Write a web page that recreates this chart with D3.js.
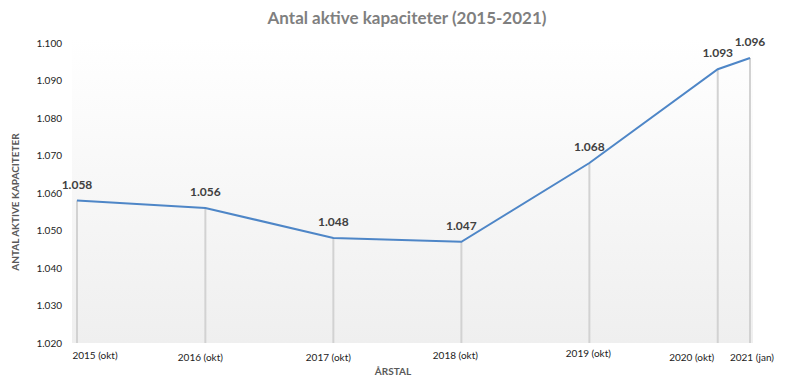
<!DOCTYPE html>
<html>
<head>
<meta charset="utf-8">
<script src="https://cdn.jsdelivr.net/npm/d3@7"></script>
<style>
  html, body { margin: 0; padding: 0; background: #fff; }
  svg { display: block; }
</style>
</head>
<body>
<svg id="chart" width="789" height="380"></svg>
<script>
const categories = ["2015 (okt)", "2016 (okt)", "2017 (okt)", "2018 (okt)", "2019 (okt)", "2020 (okt)", "2021 (jan)"];
const dates = ["2015-10-01", "2016-10-01", "2017-10-01", "2018-10-01", "2019-10-01", "2020-10-01", "2021-01-01"];
const values = [1058, 1056, 1048, 1047, 1068, 1093, 1096];
const yTicks = [1020, 1030, 1040, 1050, 1060, 1070, 1080, 1090, 1100];
const title = "Antal aktive kapaciteter (2015-2021)";
const yTitle = "ANTAL AKTIVE KAPACITETER";
const xTitle = "ÅRSTAL";

const font = "Lato, 'Open Sans', sans-serif";
const locale = d3.formatLocale({decimal: ",", thousands: ".", grouping: [3], currency: ["", ""]});
const fmt = locale.format(",");
const parse = d3.utcParse("%Y-%m-%d");
const data = categories.map((c, i) => ({cat: c, date: parse(dates[i]), value: values[i]}));

const svg = d3.select("#chart");
const plot = {left: 72, right: 753, top: 43, bottom: 343};

const x = d3.scaleUtc()
  .domain([data[0].date, data[data.length - 1].date])
  .range([77, 750]);
const y = d3.scaleLinear().domain([1020, 1100]).range([plot.bottom, plot.top]);

// background gradient
const defs = svg.append("defs");
const grad = defs.append("linearGradient").attr("id", "bg").attr("x1", 0).attr("y1", 0).attr("x2", 0).attr("y2", 1);
grad.append("stop").attr("offset", "0%").attr("stop-color", "#ffffff");
grad.append("stop").attr("offset", "100%").attr("stop-color", "#efefef");
svg.append("rect")
  .attr("x", plot.left).attr("y", plot.top - 5)
  .attr("width", plot.right - plot.left).attr("height", plot.bottom - plot.top + 5)
  .attr("fill", "url(#bg)");

// title
svg.append("text")
  .attr("x", 407).attr("y", 24)
  .attr("text-anchor", "middle")
  .attr("font-family", font).attr("font-weight", "bold").attr("font-size", 17)
  .attr("fill", "#7f7f7f")
  .text(title);

// y axis
const yAxis = d3.axisLeft(y).tickValues(yTicks).tickSize(0).tickPadding(0).tickFormat(fmt);
const gy = svg.append("g").attr("transform", `translate(62,0)`).call(yAxis);
gy.select(".domain").remove();
gy.selectAll("text").attr("font-family", font).attr("font-size", 10).attr("fill", "#222");

// y title
svg.append("text")
  .attr("transform", `translate(19,202) rotate(-90)`)
  .attr("text-anchor", "middle")
  .attr("font-family", font).attr("font-weight", "bold").attr("font-size", 10)
  .attr("fill", "#595959")
  .text(yTitle);

// drop lines
svg.append("g").selectAll("line").data(data).join("line")
  .attr("x1", d => x(d.date)).attr("x2", d => x(d.date))
  .attr("y1", d => y(d.value)).attr("y2", plot.bottom)
  .attr("stroke", "#d2d2d2").attr("stroke-width", 2);

// line
const line = d3.line().x(d => x(d.date)).y(d => y(d.value));
svg.append("path").datum(data)
  .attr("d", line)
  .attr("fill", "none")
  .attr("stroke", "#4e86c7")
  .attr("stroke-width", 2);

// value labels
svg.append("g").selectAll("text").data(data).join("text")
  .attr("x", d => x(d.date)).attr("y", d => y(d.value) - 12)
  .attr("text-anchor", "middle")
  .attr("font-family", font).attr("font-weight", "bold").attr("font-size", 12)
  .attr("fill", "#404040")
  .text(d => fmt(d.value));

// category labels (manual offsets as in the original layout)
const labelDx = [18, -5, -5, -6, -1, -26, 2];
const labelY = [359, 361, 361, 359, 357, 361, 361];
svg.append("g").selectAll("text").data(data).join("text")
  .attr("x", (d, i) => x(d.date) + labelDx[i])
  .attr("y", (d, i) => labelY[i])
  .attr("text-anchor", "middle")
  .attr("font-family", font).attr("font-size", 10)
  .attr("fill", "#222")
  .text(d => d.cat);

// x title
svg.append("text")
  .attr("x", 393).attr("y", 375)
  .attr("text-anchor", "middle")
  .attr("font-family", font).attr("font-weight", "bold").attr("font-size", 10)
  .attr("fill", "#595959")
  .text(xTitle);
</script>
</body>
</html>
